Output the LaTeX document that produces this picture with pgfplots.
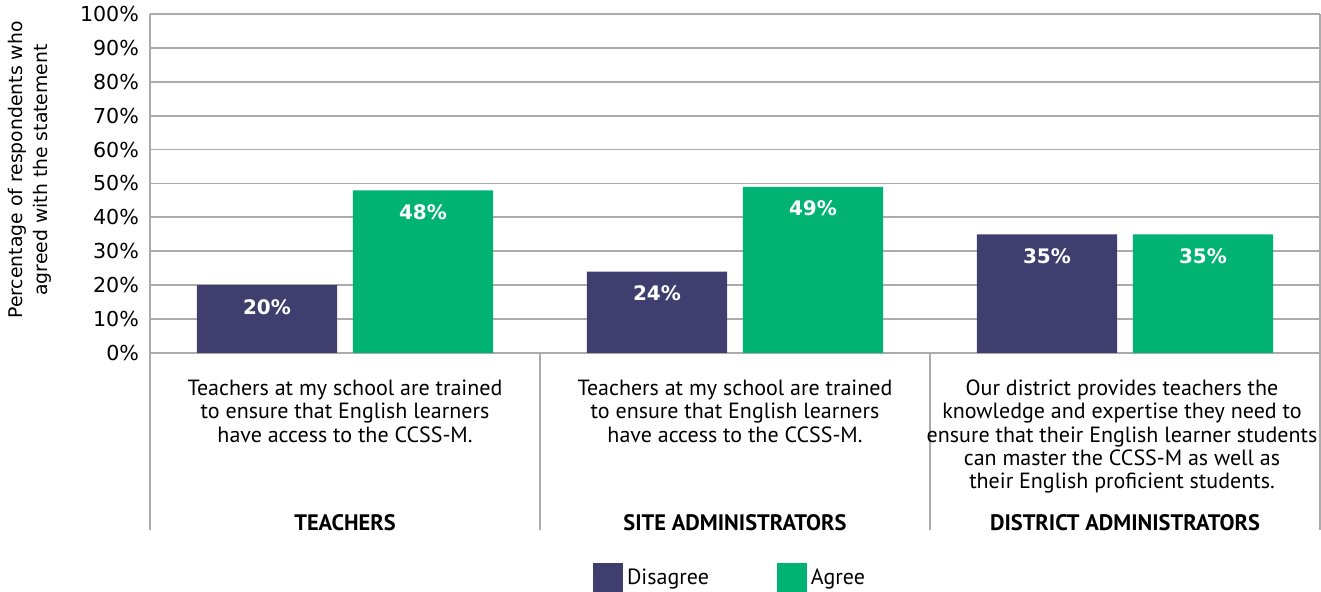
\documentclass[border=0pt]{standalone}
\usepackage{fontspec}
\setmainfont{PT Sans}
\newfontfamily\tickfont{DejaVu Sans}
\usepackage{pgfplots}
\pgfplotsset{compat=1.18}
\definecolor{disagree}{HTML}{3F3E6F}
\definecolor{agree}{HTML}{00B373}
\definecolor{gridgray}{HTML}{ABABAB}
\begin{document}
\begin{tikzpicture}
\useasboundingbox (-75pt,-119.5pt) rectangle (585.5pt,176.5pt);
\begin{axis}[
  width=585pt, height=169.5pt, scale only axis,
  xmin=0, xmax=3, ymin=0, ymax=100,
  ytick={0,10,...,100},
  xtick=\empty,
  axis line style={draw=none},
  ymajorgrids, grid style={gridgray, line width=0.9pt},
  major tick length=0pt,
  /pgf/number format/assume math mode=true,
  yticklabel={\tickfont\pgfmathprintnumber{\tick}\%},
  yticklabel style={font=\fontsize{10.3}{12}\selectfont, xshift=-2pt},
  ybar, bar width=0.36, bar shift=0pt,
  clip=false,
  nodes near coords={\tickfont\bfseries\pgfmathprintnumber{\pgfplotspointmeta}\%},
  every node near coord/.append style={anchor=north, yshift=-3.5pt, white, font=\fontsize{10}{12}\selectfont},
  legend style={at={(0.5,0)}, anchor=north, yshift=-103pt, xshift=-2pt, draw=none,
    font=\fontsize{11}{13}\selectfont,
    /tikz/every even column/.append style={column sep=32pt}},
  legend columns=2,
  legend image code/.code={\fill[#1] (0pt,-7.5pt) rectangle (15pt,7.5pt);},
]
\addplot[fill=disagree, draw=none] coordinates {(0.3,20) (1.3,24) (2.3,35)};
\addlegendentry{Disagree}
\addplot[fill=agree, draw=none] coordinates {(0.7,48) (1.7,49) (2.7,35)};
\addlegendentry{Agree}

% vertical frame and separators
\foreach \k in {0,1,2,3} {
  \edef\temp{\noexpand\draw[gridgray, line width=0.9pt] (axis cs:\k,\ifnum\k=0 100\else\ifnum\k=3 100\else 0\fi\fi) -- (axis cs:\k,0) -- ++(0,-88.5pt);}
  \temp
}
\tikzset{cat/.style={anchor=north, align=center, font=\fontsize{11}{11.6}\selectfont},
         grp/.style={anchor=base, font=\fontsize{11.2}{13}\selectfont\bfseries}}
\node[cat] at (axis cs:0.5,0) [yshift=-10pt] {Teachers at my school are trained\\to ensure that English learners\\have access to the CCSS-M.};
\node[cat] at (axis cs:1.5,0) [yshift=-10pt] {Teachers at my school are trained\\to ensure that English learners\\have access to the CCSS-M.};
\node[cat] at (axis cs:2.5,0) [yshift=-10pt, xshift=-1.5pt] {Our district provides teachers the\\knowledge and expertise they need to\\ensure that their English learner students\\can master the CCSS-M as well as\\their English proficient students.};
\node[grp] at (axis cs:0.5,0) [yshift=-89pt] {TEACHERS};
\node[grp] at (axis cs:1.5,0) [yshift=-89pt] {SITE ADMINISTRATORS};
\node[grp] at (axis cs:2.5,0) [yshift=-89pt] {DISTRICT ADMINISTRATORS};
\end{axis}
\node[rotate=90, align=center, font=\tickfont\fontsize{9.4}{12.5}\selectfont] at (-60pt,91.5pt)
  {Percentage of respondents who\\agreed with the statement};
\end{tikzpicture}
\end{document}
